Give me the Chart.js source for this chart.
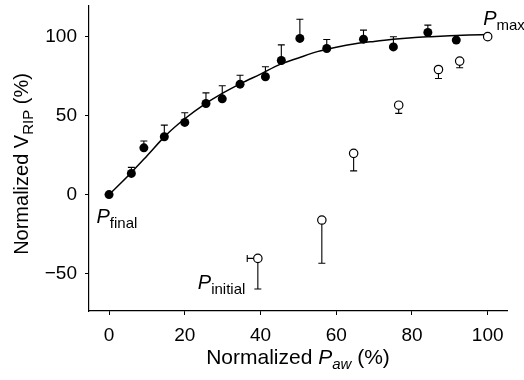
<!DOCTYPE html>
<html>
<head>
<meta charset="utf-8">
<script src="https://cdn.jsdelivr.net/npm/chart.js@4.4.1/dist/chart.umd.min.js"></script>
<style>
  html, body { margin: 0; padding: 0; background: #fff; }
  #wrap { width: 524px; height: 380px; position: relative; }
</style>
</head>
<body>
<div id="wrap"><canvas id="c" width="524" height="380"></canvas></div>
<script>
// ---- data ----
const xTicks = [0, 20, 40, 60, 80, 100];
const yTicks = [-50, 0, 50, 100];

// filled circles (with upper error bars)
const filledX   = [0, 5.9, 9.2, 14.6, 20.0, 25.6, 29.9, 34.6, 41.3, 45.5, 50.4, 57.5, 67.2, 75.1, 84.2, 91.7];
const filledY   = [0, 13.4, 29.6, 36.6, 45.7, 57.7, 60.6, 69.9, 74.6, 84.9, 98.9, 92.5, 98.4, 93.5, 102.7, 97.8];
const filledTop = [0, 17.2, 33.9, 44.0, 51.8, 64.4, 68.9, 75.6, 80.9, 94.8, 111.0, 98.2, 104.1, 99.9, 107.3, 98.6];

// open circles (with lower error bars)
const openX      = [39.3, 56.2, 64.6, 76.5, 87.0, 92.6, 100];
const openY      = [-40.4, -16.1, 26.1, 56.6, 79.2, 84.5, 100];
const openBottom = [-59.8, -43.5, 15.0, 51.4, 73.5, 80.3, 100];
const openLeft   = [36.5, null, null, null, null, null, null];

// fitted curve
const curveX = [0, 5, 10, 15, 20, 25, 30, 35, 40, 45, 50, 55, 60, 65, 70, 75, 80, 85, 90, 95, 100];
const curveY = [0, 11.8, 24.5, 37.5, 48.0, 56.8, 64.2, 70.6, 76.3, 82.3, 86.5, 90.5, 93.3, 95.5, 97.0, 98.3, 99.3, 100.0, 100.6, 101.0, 101.3];

const FONT = "'Liberation Sans', Arial, Helvetica, sans-serif";

const toPts = (xs, ys) => xs.map((x, i) => ({ x: x, y: ys[i] }));

// error bars + text plugin
const errorBars = {
  id: 'errorBars',
  beforeDatasetsDraw(chart) {
    const ctx = chart.ctx, xs = chart.scales.x, ys = chart.scales.y;
    const cap = 3.5;
    ctx.save();
    ctx.strokeStyle = '#000';
    ctx.lineWidth = 1.1;
    const vbar = (x, y0, y1) => {
      const px = xs.getPixelForValue(x);
      const p0 = ys.getPixelForValue(y0), p1 = ys.getPixelForValue(y1);
      ctx.beginPath();
      ctx.moveTo(px, p0); ctx.lineTo(px, p1);
      ctx.moveTo(px - cap, p1); ctx.lineTo(px + cap, p1);
      ctx.stroke();
    };
    filledX.forEach((x, i) => { if (filledTop[i] > filledY[i] + 0.5) vbar(x, filledY[i], filledTop[i]); });
    openX.forEach((x, i) => { if (openBottom[i] < openY[i] - 0.5) vbar(x, openY[i], openBottom[i]); });
    openX.forEach((x, i) => {
      if (openLeft[i] == null) return;
      const py = ys.getPixelForValue(openY[i]);
      const p0 = xs.getPixelForValue(x), p1 = xs.getPixelForValue(openLeft[i]);
      ctx.beginPath();
      ctx.moveTo(p0, py); ctx.lineTo(p1, py);
      ctx.moveTo(p1, py - cap); ctx.lineTo(p1, py + cap);
      ctx.stroke();
    });
    ctx.restore();
  },
  afterDraw(chart) {
    const ctx = chart.ctx, xs = chart.scales.x, ys = chart.scales.y, ca = chart.chartArea;
    ctx.save();
    ctx.fillStyle = '#000';
    ctx.textBaseline = 'alphabetic';
    // draws P with subscript, left aligned at (x, y baseline)
    const pLabel = (x, y, sub) => {
      ctx.textAlign = 'left';
      ctx.font = 'italic 20px ' + FONT;
      ctx.fillText('P', x, y);
      const w = ctx.measureText('P').width;
      ctx.font = '15px ' + FONT;
      ctx.fillText(sub, x + w, y + 5);
    };
    pLabel(xs.getPixelForValue(0) - 12.5, ys.getPixelForValue(0) + 28.5, 'final');
    pLabel(xs.getPixelForValue(39.3) - 60, ys.getPixelForValue(-40.4) + 30.5, 'initial');
    pLabel(xs.getPixelForValue(100) - 4.5, ys.getPixelForValue(100) - 11.5, 'max');

    const drawParts = (parts, cx, cy) => {
      let total = 0;
      parts.forEach(p => { ctx.font = p.f; p.w = ctx.measureText(p.t).width; total += p.w; });
      let x = cx - total / 2;
      ctx.textAlign = 'left';
      parts.forEach(p => { ctx.font = p.f; ctx.fillText(p.t, x, cy + p.dy); x += p.w; });
    };

    // x axis title: Normalized P_aw (%)
    const xParts = [
      { t: 'Normalized ', f: '21px ' + FONT, dy: 0 },
      { t: 'P', f: 'italic 21px ' + FONT, dy: 0 },
      { t: 'aw', f: 'italic 15px ' + FONT, dy: 5 },
      { t: ' (%)', f: '21px ' + FONT, dy: 0 }
    ];
    drawParts(xParts, (ca.left + ca.right) / 2, 364);

    // y axis title: Normalized V_RIP (%)
    const yParts = [
      { t: 'Normalized V', f: '20px ' + FONT, dy: 0 },
      { t: 'RIP', f: '15px ' + FONT, dy: 5 },
      { t: ' (%)', f: '20px ' + FONT, dy: 0 }
    ];
    ctx.save();
    ctx.translate(28, 164);
    ctx.rotate(-Math.PI / 2);
    drawParts(yParts, 0, 0);
    ctx.restore();
    ctx.restore();
  }
};

new Chart(document.getElementById('c'), {
  type: 'scatter',
  data: {
    datasets: [
      {
        type: 'line',
        data: toPts(curveX, curveY),
        borderColor: '#000',
        borderWidth: 1.5,
        pointRadius: 0,
        fill: false,
        cubicInterpolationMode: 'monotone',
        order: 3
      },
      {
        data: toPts(filledX, filledY),
        pointRadius: 4.5,
        pointBackgroundColor: '#000',
        pointBorderColor: '#000',
        pointBorderWidth: 0,
        order: 1
      },
      {
        data: toPts(openX, openY),
        pointRadius: 4.2,
        pointBackgroundColor: '#fff',
        pointBorderColor: '#000',
        pointBorderWidth: 1.2,
        order: 2
      }
    ]
  },
  options: {
    responsive: false,
    animation: false,
    devicePixelRatio: 1,
    layout: { padding: { top: 6, right: 17, left: 0, bottom: 0 } },
    plugins: { legend: { display: false }, tooltip: { enabled: false } },
    scales: {
      x: {
        type: 'linear',
        min: -5.29, max: 105.1,
        afterBuildTicks: s => { s.ticks = xTicks.map(v => ({ value: v })); },
        afterFit: s => { s.height = 69; s.paddingLeft = 0; s.paddingRight = 0; },
        grid: { display: true, drawOnChartArea: false, drawTicks: true, tickLength: 4, color: '#000', lineWidth: 1 },
        border: { display: true, color: '#000', width: 1.2 },
        ticks: { color: '#000', font: { family: FONT, size: 19 }, padding: 9, maxRotation: 0 }
      },
      y: {
        type: 'linear',
        min: -73.7, max: 119.4,
        afterBuildTicks: s => { s.ticks = yTicks.map(v => ({ value: v })); },
        afterFit: s => { s.width = 89; s.paddingTop = 0; s.paddingBottom = 0; },
        grid: { display: true, drawOnChartArea: false, drawTicks: true, tickLength: 4, color: '#000', lineWidth: 1 },
        border: { display: true, color: '#000', width: 1.2 },
        ticks: {
          color: '#000', font: { family: FONT, size: 19 }, padding: 8,
          callback: v => (v < 0 ? '\u2212' + Math.abs(v) : String(v))
        }
      }
    }
  },
  plugins: [errorBars]
});
</script>
</body>
</html>
